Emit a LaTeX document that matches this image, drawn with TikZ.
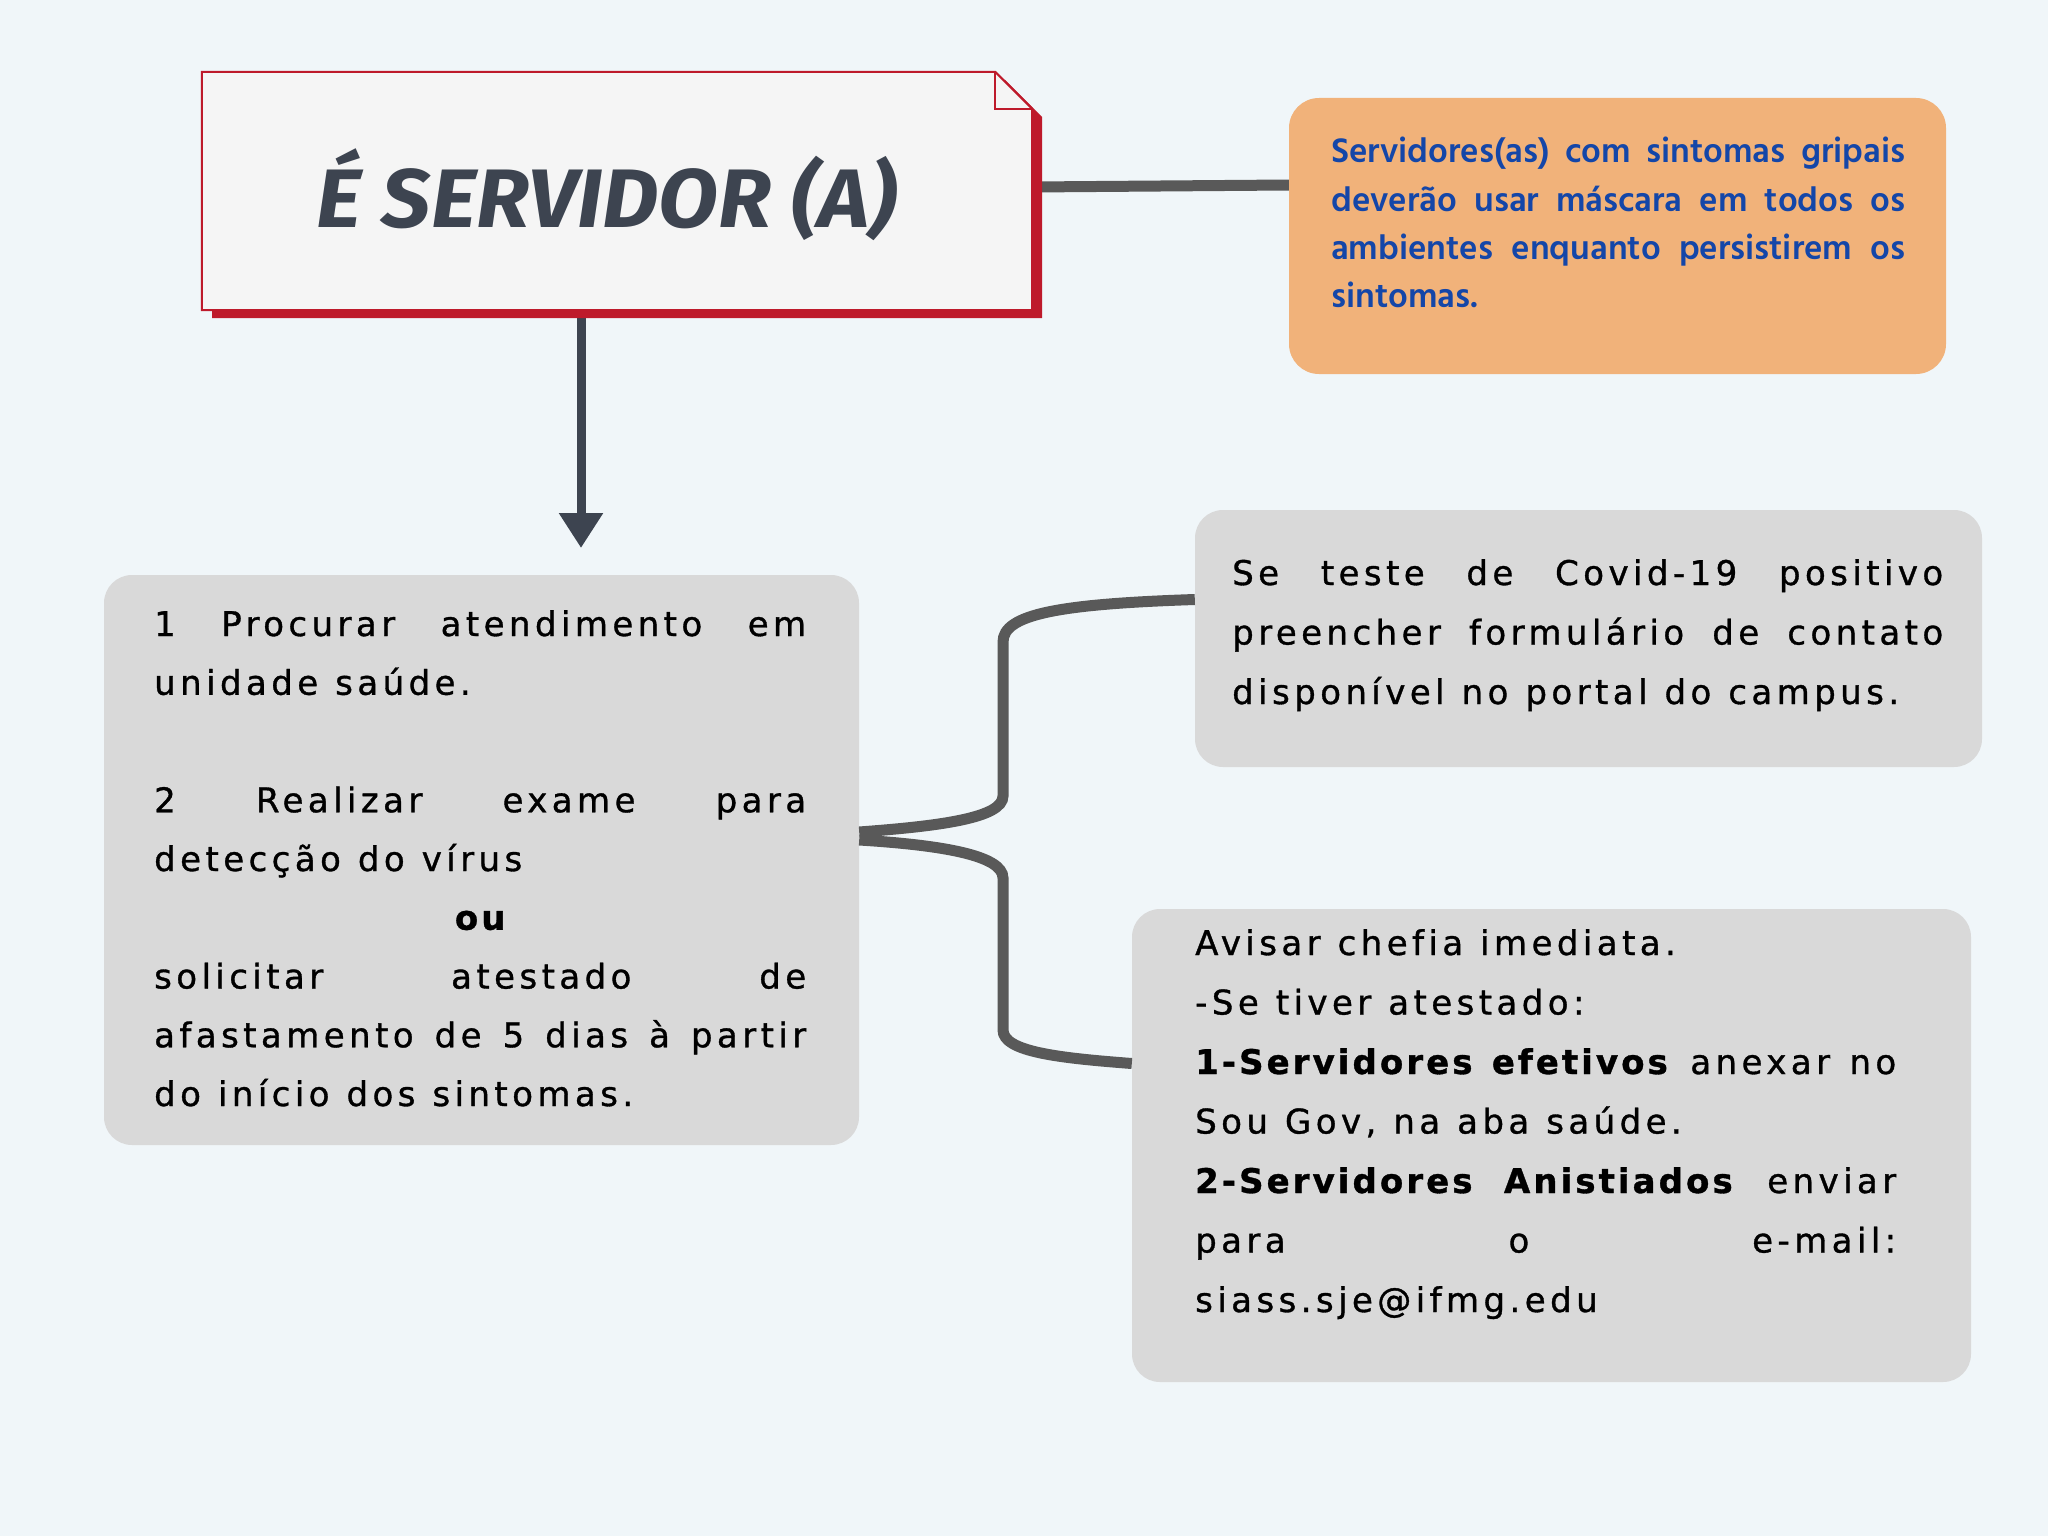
\documentclass[tikz,border=0pt]{standalone}
\usepackage{fontspec}
\usepackage{graphicx}
\usetikzlibrary{arrows.meta,calc}
\newfontfamily\grayfont[LetterSpace=13,FakeBold=1,Ligatures={NoCommon},BoldFeatures={LetterSpace=9}]{DejaVu Sans}
\newfontfamily\orangefont{Hind Siliguri}
\newfontfamily\titlefont{Fira Sans}
\definecolor{bgc}{HTML}{F0F6F9}
\definecolor{titlefill}{HTML}{F5F5F5}
\definecolor{redc}{HTML}{BE1A2B}
\definecolor{titletext}{HTML}{3D4450}
\definecolor{orangec}{HTML}{F1B27A}
\definecolor{bluec}{HTML}{1446A8}
\definecolor{grayc}{HTML}{D9D9D9}
\definecolor{linkc}{HTML}{595959}
\newcommand\jl[2]{\leavevmode\hbox to #1{#2}}
\newcommand\w{\hspace{17pt}}
\newcommand\grayset[1]{\grayfont\fontsize{34}{#1}\selectfont}
\tikzset{
  graybox/.style={rectangle, rounded corners=28pt, fill=grayc, draw=none, inner sep=0pt},
  orangebox/.style={rectangle, rounded corners=30pt, fill=orangec, draw=none, inner sep=0pt},
  txt/.style={anchor=base west, inner sep=0pt, align=left},
  graytxt/.style={txt, text=black, font=\grayset{58.75}},
  link/.style={draw=linkc, line width=11pt},
}
\begin{document}
\begin{tikzpicture}[x=1pt,y=-1pt]
\useasboundingbox (0,0) rectangle (2048,1536);
\fill[bgc] (0,0) rectangle (2048,1536);

% named nodes for boxes
\node[minimum width=830pt, minimum height=238pt, inner sep=0pt] (title) at (617,191) {};
\node[orangebox, minimum width=657pt, minimum height=276pt] (orange) at (1617.5,236) {};
\node[graybox, minimum width=755pt, minimum height=570pt] (lbox) at (481.5,860) {};
\node[graybox, minimum width=787pt, minimum height=257pt] (rtop) at (1588.5,638.5) {};
\node[graybox, minimum width=839pt, minimum height=473pt] (rbot) at (1551.5,1145.5) {};
\coordinate (arrowtip) at (581,548);

% connectors
\draw[link] ($(title.east)+(0,-4)$) -- ($(orange.west)+(0,-51)$);
\draw[link] ($(lbox.east)+(0,-28)$) .. controls (940,826) and (1003,818) .. (1003,796)
   -- (1003,642) .. controls (1003,614) and (1060,604) .. ($(rtop.west)+(0,-39)$);
\draw[link] ($(lbox.east)+(0,-20)$) .. controls (940,845) and (1003,855) .. (1003,878)
   -- (1003,1030) .. controls (1003,1052) and (1060,1058) .. ($(rbot.west)+(0,-82)$);
\draw[draw=titletext, line width=9pt, -{Triangle[width=42pt,length=35pt]}]
   (title.south -| arrowtip) -- (arrowtip);

% title box with shadow and folded corner
\fill[redc] (212,80) -- (1005,80) -- (1042,117) -- (1042,318) -- (212,318) -- cycle;
\filldraw[fill=titlefill, draw=redc, line width=2pt]
   (title.north west) -- ($(title.north east)+(-37,0)$) -- ($(title.north east)+(0,37)$)
   -- (title.south east) -- (title.south west) -- cycle;
\draw[redc, line width=1.5pt] ($(title.north east)+(-37,0)$) -- ($(title.north east)+(-37,37)$) -- ($(title.north east)+(0,37)$);
\node[anchor=base, inner sep=0pt, text=titletext, font=\titlefont\bfseries\itshape\fontsize{83}{90}\selectfont] (ttext) at (607,227) {\resizebox{580pt}{\height}{É SERVIDOR (A)}};

% orange text
\node[txt, text=bluec, text width=574pt, font=\orangefont\bfseries\fontsize{35}{48.3}\selectfont] (otext) at (1331,163)
{\jl{574pt}{Servidores(as)\hfill com\hfill sintomas\hfill gripais}\\
 \jl{574pt}{deverão\hfill usar\hfill máscara\hfill em\hfill todos\hfill os}\\
 \jl{574pt}{ambientes\hfill enquanto\hfill persistirem\hfill os}\\
 sintomas.};

% left box text
\node[graytxt, text width=652pt] (ltext) at (154,636)
{\jl{652pt}{1\hfill Procurar\hfill atendimento\hfill em}\\
 unidade\w saúde.\\
 \mbox{}\\
 \jl{652pt}{2\hfill Realizar\hfill exame\hfill para}\\
 detecção\w do\w vírus\\
 \jl{652pt}{\hfill\bfseries ou\hfill}\\
 \jl{652pt}{solicitar\hfill atestado\hfill de}\\
 \jl{652pt}{afastamento\hfill de\hfill 5\hfill dias\hfill à\hfill partir}\\
 do\w início\w dos\w sintomas.};

% right top text
\node[graytxt, text width=711pt, font=\grayset{59.5}] (rttext) at (1232,585)
{\jl{711pt}{Se\hfill teste\hfill de\hfill Covid-19\hfill positivo}\\
 \jl{711pt}{preencher\hfill formulário\hfill de\hfill contato}\\
 disponível\w no\w portal\w do\w campus.};

% right bottom text
\node[graytxt, text width=701pt, font=\grayset{59.5}] (rbtext) at (1195,955)
{Avisar\w chefia\w imediata.\\
 -Se\w tiver\w atestado:\\
 \jl{701pt}{\textbf{1-Servidores\hfill efetivos}\hfill anexar\hfill no}\\
 Sou\w Gov,\w na\w aba\w saúde.\\
 \jl{701pt}{\textbf{2-Servidores\hfill Anistiados}\hfill enviar}\\
 \jl{701pt}{para\hfill o\hfill e-mail:}\\
 siass.sje@ifmg.edu};
\end{tikzpicture}
\end{document}
